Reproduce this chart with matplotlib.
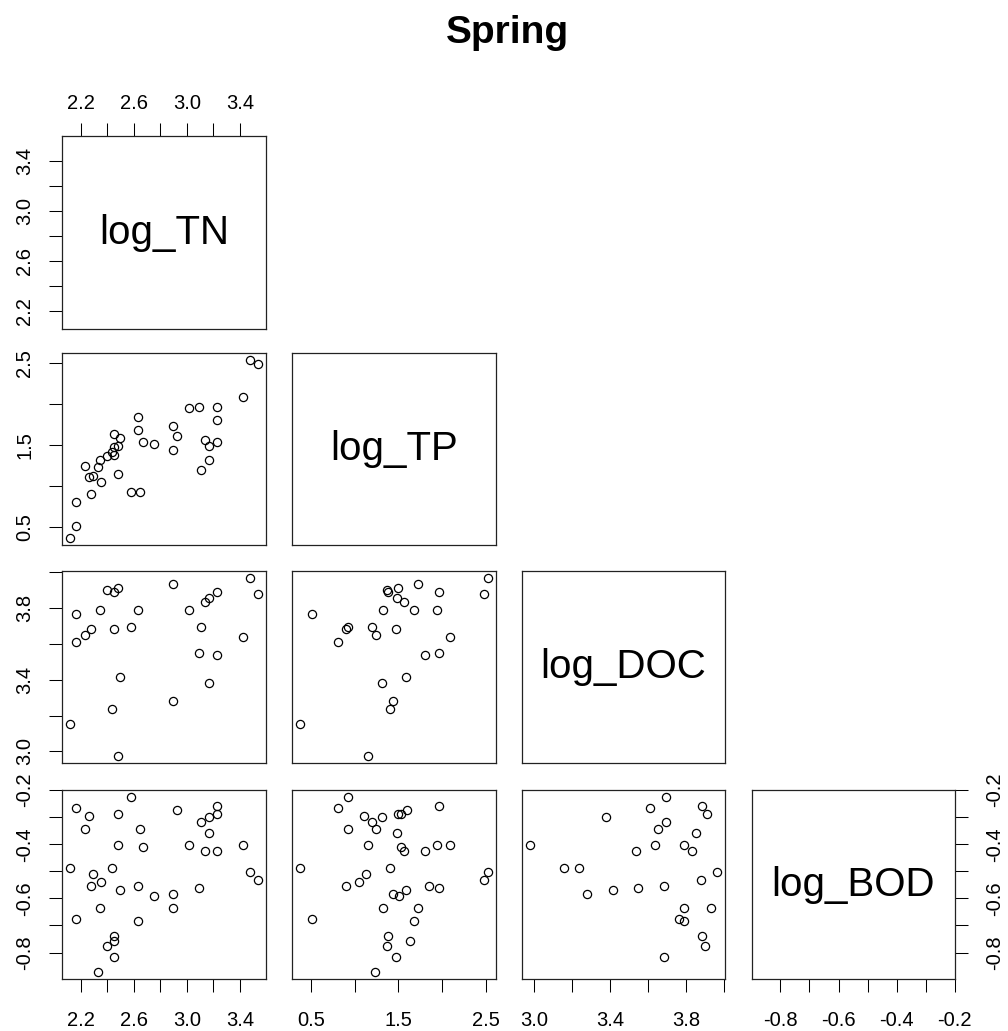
import numpy as np
import matplotlib
matplotlib.use("Agg")
import matplotlib.pyplot as plt

plt.rcParams['font.family'] = ['Liberation Sans', 'DejaVu Sans']

title = "Spring"
var_names = ["log_TN", "log_TP", "log_DOC", "log_BOD"]

log_TN = [2.115, 2.160, 2.160, 2.235, 2.265, 2.290, 2.280, 2.330, 2.343, 2.355,
          2.398, 2.435, 2.448, 2.448, 2.448, 2.478, 2.478, 2.493, 2.578, 2.628,
          2.628, 2.643, 2.668, 2.750, 2.898, 2.898, 2.928, 3.015, 3.093, 3.110,
          3.135, 3.168, 3.168, 3.228, 3.228, 3.228, 3.423, 3.480, 3.540]
log_TP = [0.367, 0.512, 0.803, 1.243, 1.106, 1.126, 0.904, 1.227, 1.320, 1.045,
          1.369, 1.409, 1.631, 1.470, 1.381, 1.147, 1.490, 1.583, 0.924, 1.845,
          1.680, 0.924, 1.530, 1.506, 1.724, 1.437, 1.603, 1.946, 1.967, 1.195,
          1.563, 1.482, 1.316, 1.967, 1.801, 1.530, 2.088, 2.532, 2.480]
nan = float('nan')
log_DOC = [3.155, 3.765, 3.609, 3.651, nan, nan, 3.684, nan, 3.788, nan,
           3.900, 3.234, nan, 3.684, 3.887, 2.975, 3.910, 3.414, 3.696, nan,
           3.788, nan, nan, nan, 3.934, 3.279, nan, 3.788, 3.549, 3.696,
           3.831, 3.855, 3.380, 3.887, 3.538, nan, 3.639, 3.966, 3.878]
log_BOD = [-0.489, -0.677, -0.264, -0.345, -0.294, -0.511, -0.554, -0.872, -0.634, -0.539,
           -0.776, -0.489, -0.758, -0.816, -0.740, -0.402, -0.288, -0.569, -0.225, -0.554,
           -0.684, -0.345, -0.410, -0.592, -0.634, -0.583, -0.272, -0.402, -0.561, -0.316,
           -0.424, -0.358, -0.300, -0.258, -0.424, -0.288, -0.402, -0.502, -0.533]

tick_vals = [
    [2.2, 2.4, 2.6, 2.8, 3.0, 3.2, 3.4],
    [0.5, 1.0, 1.5, 2.0, 2.5],
    [3.0, 3.2, 3.4, 3.6, 3.8, 4.0],
    [-0.8, -0.7, -0.6, -0.5, -0.4, -0.3, -0.2],
]
tick_labels = [
    ["2.2", "", "2.6", "", "3.0", "", "3.4"],
    ["0.5", "", "1.5", "", "2.5"],
    ["3.0", "", "3.4", "", "3.8", ""],
    ["-0.8", "", "-0.6", "", "-0.4", "", "-0.2"],
]

data = [np.array(log_TN), np.array(log_TP), np.array(log_DOC), np.array(log_BOD)]

def lims(v):
    lo, hi = np.nanmin(v), np.nanmax(v)
    m = 0.04 * (hi - lo)
    return lo - m, hi + m

W, H = 1008, 1031
fig = plt.figure(figsize=(W / 100, H / 100), dpi=100)

cols = [(62, 266), (292, 496), (522, 725), (752, 955)]
rows = [(136, 329), (353, 545), (571, 763), (790, 979)]

tick_len = 9.4
tick_w = 0.75
lab_fs = 14.5
pads = {'bottom': 13.5, 'top': 7.5, 'left': 10.5, 'right': 12.5}

def style_ticks(ax, which, k):
    vals = tick_vals[k]
    labs = tick_labels[k]
    if which in ('bottom', 'top'):
        ax.set_xticks(vals)
        ax.set_xticklabels(labs, fontsize=lab_fs)
        ax.tick_params(axis='x', which='major', direction='out', length=tick_len,
                       width=tick_w, pad=pads[which], bottom=(which == 'bottom'),
                       top=(which == 'top'), labelbottom=(which == 'bottom'),
                       labeltop=(which == 'top'))
    else:
        ax.set_yticks(vals)
        ax.set_yticklabels(labs, fontsize=lab_fs, rotation=90, va='center')
        ax.tick_params(axis='y', which='major', direction='out', length=tick_len,
                       width=tick_w, pad=pads[which], left=(which == 'left'),
                       right=(which == 'right'), labelleft=(which == 'left'),
                       labelright=(which == 'right'))

for i in range(4):
    for j in range(i + 1):
        x0, x1 = cols[j]
        y0, y1 = rows[i]
        ax = fig.add_axes([x0 / W, 1 - y1 / H, (x1 - x0) / W, (y1 - y0) / H])
        ax.set_xlim(*lims(data[j]))
        ax.set_ylim(*lims(data[i]))
        for s in ax.spines.values():
            s.set_linewidth(0.9)
            s.set_color('#222222')
        ax.set_xticks([])
        ax.set_yticks([])
        if i == j:
            ax.text(0.5, 0.5, var_names[i], transform=ax.transAxes, ha='center',
                    va='center', fontsize=29, color='black')
        else:
            ax.plot(data[j], data[i], linestyle='none', marker='o', markersize=5.9,
                    markerfacecolor='none', markeredgecolor='black', markeredgewidth=0.9)
        if i == 0 and j == 0:
            style_ticks(ax, 'top', 0)
        if j == 0:
            style_ticks(ax, 'left', i)
        if i == 3:
            style_ticks(ax, 'bottom', j)
        if i == 3 and j == 3:
            ax.yaxis.set_ticks_position('right')
            style_ticks(ax, 'right', 3)
        if i == 0 and j == 0:
            ax.tick_params(axis='x', top=True, labeltop=True, bottom=False, labelbottom=False)

fig.text(507.8 / W, 1 - 43 / H, title, ha='center', va='baseline', fontsize=28,
         fontweight='bold')

fig.savefig("out.png", dpi=100)
